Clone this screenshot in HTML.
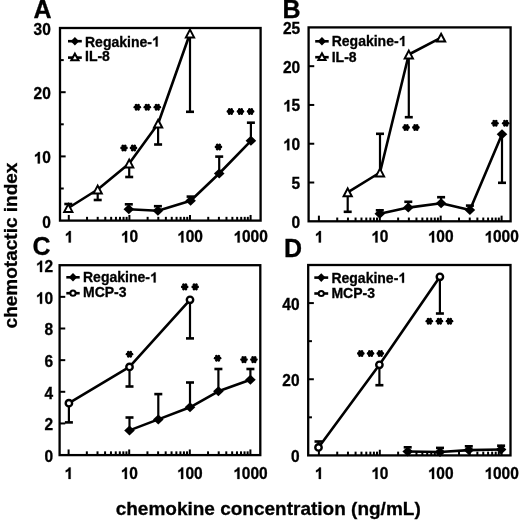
<!DOCTYPE html>
<html><head><meta charset="utf-8"><style>
html,body{margin:0;padding:0;background:#fff;width:520px;height:521px;overflow:hidden}
svg{display:block;filter:grayscale(1)}
</style></head><body>
<svg width="520" height="521" viewBox="0 0 520 521">
<style>text{stroke:#000;stroke-width:0.3px}.t{font:bold 15.5px "Liberation Sans",sans-serif}.l{font:bold 14.0px "Liberation Sans",sans-serif}.p{font:bold 25px "Liberation Sans",sans-serif}.a{font:bold 19px "Liberation Sans",sans-serif}</style>
<rect width="520" height="521" fill="#fff"/>
<g transform="matrix(1,0,0,1.03,0,-6.83)">
<text x="42.18" y="227.6" class="t">0</text>
</g>
<line x1="60" y1="156.4" x2="65.65" y2="156.4" stroke="#000" stroke-width="2.0"/>
<g transform="matrix(1,0,0,1.03,0,-4.9)">
<path d="M39.89 163.4L37.76 163.4L37.76 155.39Q36.59 156.47 35.01 157L35.01 155.07Q35.84 154.79 36.82 154.04Q37.8 153.27 38.16 152.3L39.89 152.3Z" fill="#000" stroke="#000" stroke-width="0.3"/>
<text x="42.18" y="163.4" class="t">0</text>
</g>
<line x1="60" y1="92.2" x2="65.65" y2="92.2" stroke="#000" stroke-width="2.0"/>
<g transform="matrix(1,0,0,1.03,0,-2.98)">
<text x="33.56" y="99.2" class="t">20</text>
</g>
<g transform="matrix(1,0,0,1.03,0,-1.05)">
<text x="33.56" y="35" class="t">30</text>
</g>
<line x1="60" y1="188.5" x2="63.75" y2="188.5" stroke="#000" stroke-width="2.0"/>
<line x1="60" y1="124.3" x2="63.75" y2="124.3" stroke="#000" stroke-width="2.0"/>
<line x1="60" y1="60.1" x2="63.75" y2="60.1" stroke="#000" stroke-width="2.0"/>
<line x1="68.8" y1="220.6" x2="68.8" y2="214.95" stroke="#000" stroke-width="2.0"/>
<g transform="matrix(1,0,0,1.03,0,-7.28)">
<path d="M70.82 242.5L68.69 242.5L68.69 234.49Q67.52 235.57 65.94 236.1L65.94 234.17Q66.78 233.89 67.75 233.14Q68.73 232.37 69.09 231.4L70.82 231.4Z" fill="#000" stroke="#000" stroke-width="0.3"/>
</g>
<line x1="87.04" y1="220.6" x2="87.04" y2="216.85" stroke="#000" stroke-width="2.0"/>
<line x1="97.71" y1="220.6" x2="97.71" y2="216.85" stroke="#000" stroke-width="2.0"/>
<line x1="105.28" y1="220.6" x2="105.28" y2="216.85" stroke="#000" stroke-width="2.0"/>
<line x1="111.16" y1="220.6" x2="111.16" y2="216.85" stroke="#000" stroke-width="2.0"/>
<line x1="115.96" y1="220.6" x2="115.96" y2="216.85" stroke="#000" stroke-width="2.0"/>
<line x1="120.01" y1="220.6" x2="120.01" y2="216.85" stroke="#000" stroke-width="2.0"/>
<line x1="123.53" y1="220.6" x2="123.53" y2="216.85" stroke="#000" stroke-width="2.0"/>
<line x1="126.63" y1="220.6" x2="126.63" y2="216.85" stroke="#000" stroke-width="2.0"/>
<line x1="129.4" y1="220.6" x2="129.4" y2="214.95" stroke="#000" stroke-width="2.0"/>
<g transform="matrix(1,0,0,1.03,0,-7.28)">
<path d="M127.11 242.5L124.98 242.5L124.98 234.49Q123.81 235.57 122.23 236.1L122.23 234.17Q123.07 233.89 124.04 233.14Q125.02 232.37 125.38 231.4L127.11 231.4Z" fill="#000" stroke="#000" stroke-width="0.3"/>
<text x="129.4" y="242.5" class="t">0</text>
</g>
<line x1="147.64" y1="220.6" x2="147.64" y2="216.85" stroke="#000" stroke-width="2.0"/>
<line x1="158.31" y1="220.6" x2="158.31" y2="216.85" stroke="#000" stroke-width="2.0"/>
<line x1="165.88" y1="220.6" x2="165.88" y2="216.85" stroke="#000" stroke-width="2.0"/>
<line x1="171.76" y1="220.6" x2="171.76" y2="216.85" stroke="#000" stroke-width="2.0"/>
<line x1="176.56" y1="220.6" x2="176.56" y2="216.85" stroke="#000" stroke-width="2.0"/>
<line x1="180.61" y1="220.6" x2="180.61" y2="216.85" stroke="#000" stroke-width="2.0"/>
<line x1="184.13" y1="220.6" x2="184.13" y2="216.85" stroke="#000" stroke-width="2.0"/>
<line x1="187.23" y1="220.6" x2="187.23" y2="216.85" stroke="#000" stroke-width="2.0"/>
<line x1="190" y1="220.6" x2="190" y2="214.95" stroke="#000" stroke-width="2.0"/>
<g transform="matrix(1,0,0,1.03,0,-7.28)">
<path d="M183.4 242.5L181.27 242.5L181.27 234.49Q180.1 235.57 178.52 236.1L178.52 234.17Q179.36 233.89 180.33 233.14Q181.31 232.37 181.67 231.4L183.4 231.4Z" fill="#000" stroke="#000" stroke-width="0.3"/>
<text x="185.69" y="242.5" class="t">00</text>
</g>
<line x1="208.24" y1="220.6" x2="208.24" y2="216.85" stroke="#000" stroke-width="2.0"/>
<line x1="218.91" y1="220.6" x2="218.91" y2="216.85" stroke="#000" stroke-width="2.0"/>
<line x1="226.48" y1="220.6" x2="226.48" y2="216.85" stroke="#000" stroke-width="2.0"/>
<line x1="232.36" y1="220.6" x2="232.36" y2="216.85" stroke="#000" stroke-width="2.0"/>
<line x1="237.16" y1="220.6" x2="237.16" y2="216.85" stroke="#000" stroke-width="2.0"/>
<line x1="241.21" y1="220.6" x2="241.21" y2="216.85" stroke="#000" stroke-width="2.0"/>
<line x1="244.73" y1="220.6" x2="244.73" y2="216.85" stroke="#000" stroke-width="2.0"/>
<line x1="247.83" y1="220.6" x2="247.83" y2="216.85" stroke="#000" stroke-width="2.0"/>
<line x1="250.6" y1="220.6" x2="250.6" y2="214.95" stroke="#000" stroke-width="2.0"/>
<g transform="matrix(1,0,0,1.03,0,-7.28)">
<path d="M239.69 242.5L237.56 242.5L237.56 234.49Q236.39 235.57 234.81 236.1L234.81 234.17Q235.64 233.89 236.62 233.14Q237.6 232.37 237.96 231.4L239.69 231.4Z" fill="#000" stroke="#000" stroke-width="0.3"/>
<text x="241.98" y="242.5" class="t">000</text>
</g>
<rect x="60" y="28" width="200.6" height="192.6" fill="none" stroke="#000" stroke-width="2.3"/>
<g transform="matrix(1,0,0,1.03,0,-6.83)">
<text x="291.58" y="227.8" class="t">0</text>
</g>
<line x1="308.6" y1="182.52" x2="314.25" y2="182.52" stroke="#000" stroke-width="2.0"/>
<g transform="matrix(1,0,0,1.03,0,-5.67)">
<text x="291.58" y="189.02" class="t">5</text>
</g>
<line x1="308.6" y1="143.74" x2="314.25" y2="143.74" stroke="#000" stroke-width="2.0"/>
<g transform="matrix(1,0,0,1.03,0,-4.51)">
<path d="M289.29 150.24L287.16 150.24L287.16 142.23Q285.99 143.31 284.41 143.84L284.41 141.91Q285.24 141.63 286.22 140.88Q287.2 140.11 287.56 139.14L289.29 139.14Z" fill="#000" stroke="#000" stroke-width="0.3"/>
<text x="291.58" y="150.24" class="t">0</text>
</g>
<line x1="308.6" y1="104.96" x2="314.25" y2="104.96" stroke="#000" stroke-width="2.0"/>
<g transform="matrix(1,0,0,1.03,0,-3.34)">
<path d="M289.29 111.46L287.16 111.46L287.16 103.45Q285.99 104.53 284.41 105.06L284.41 103.13Q285.24 102.85 286.22 102.1Q287.2 101.33 287.56 100.36L289.29 100.36Z" fill="#000" stroke="#000" stroke-width="0.3"/>
<text x="291.58" y="111.46" class="t">5</text>
</g>
<line x1="308.6" y1="66.18" x2="314.25" y2="66.18" stroke="#000" stroke-width="2.0"/>
<g transform="matrix(1,0,0,1.03,0,-2.18)">
<text x="282.96" y="72.68" class="t">20</text>
</g>
<g transform="matrix(1,0,0,1.03,0,-1.02)">
<text x="282.96" y="33.9" class="t">25</text>
</g>
<line x1="318.9" y1="221.3" x2="318.9" y2="215.65" stroke="#000" stroke-width="2.0"/>
<g transform="matrix(1,0,0,1.03,0,-7.28)">
<path d="M320.92 242.5L318.79 242.5L318.79 234.49Q317.62 235.57 316.04 236.1L316.04 234.17Q316.88 233.89 317.85 233.14Q318.83 232.37 319.19 231.4L320.92 231.4Z" fill="#000" stroke="#000" stroke-width="0.3"/>
</g>
<line x1="337.23" y1="221.3" x2="337.23" y2="217.55" stroke="#000" stroke-width="2.0"/>
<line x1="347.96" y1="221.3" x2="347.96" y2="217.55" stroke="#000" stroke-width="2.0"/>
<line x1="355.57" y1="221.3" x2="355.57" y2="217.55" stroke="#000" stroke-width="2.0"/>
<line x1="361.47" y1="221.3" x2="361.47" y2="217.55" stroke="#000" stroke-width="2.0"/>
<line x1="366.29" y1="221.3" x2="366.29" y2="217.55" stroke="#000" stroke-width="2.0"/>
<line x1="370.37" y1="221.3" x2="370.37" y2="217.55" stroke="#000" stroke-width="2.0"/>
<line x1="373.9" y1="221.3" x2="373.9" y2="217.55" stroke="#000" stroke-width="2.0"/>
<line x1="377.01" y1="221.3" x2="377.01" y2="217.55" stroke="#000" stroke-width="2.0"/>
<line x1="379.8" y1="221.3" x2="379.8" y2="215.65" stroke="#000" stroke-width="2.0"/>
<g transform="matrix(1,0,0,1.03,0,-7.28)">
<path d="M377.51 242.5L375.38 242.5L375.38 234.49Q374.21 235.57 372.63 236.1L372.63 234.17Q373.47 233.89 374.44 233.14Q375.42 232.37 375.78 231.4L377.51 231.4Z" fill="#000" stroke="#000" stroke-width="0.3"/>
<text x="379.8" y="242.5" class="t">0</text>
</g>
<line x1="398.13" y1="221.3" x2="398.13" y2="217.55" stroke="#000" stroke-width="2.0"/>
<line x1="408.86" y1="221.3" x2="408.86" y2="217.55" stroke="#000" stroke-width="2.0"/>
<line x1="416.47" y1="221.3" x2="416.47" y2="217.55" stroke="#000" stroke-width="2.0"/>
<line x1="422.37" y1="221.3" x2="422.37" y2="217.55" stroke="#000" stroke-width="2.0"/>
<line x1="427.19" y1="221.3" x2="427.19" y2="217.55" stroke="#000" stroke-width="2.0"/>
<line x1="431.27" y1="221.3" x2="431.27" y2="217.55" stroke="#000" stroke-width="2.0"/>
<line x1="434.8" y1="221.3" x2="434.8" y2="217.55" stroke="#000" stroke-width="2.0"/>
<line x1="437.91" y1="221.3" x2="437.91" y2="217.55" stroke="#000" stroke-width="2.0"/>
<line x1="440.7" y1="221.3" x2="440.7" y2="215.65" stroke="#000" stroke-width="2.0"/>
<g transform="matrix(1,0,0,1.03,0,-7.28)">
<path d="M434.1 242.5L431.97 242.5L431.97 234.49Q430.8 235.57 429.22 236.1L429.22 234.17Q430.06 233.89 431.03 233.14Q432.01 232.37 432.37 231.4L434.1 231.4Z" fill="#000" stroke="#000" stroke-width="0.3"/>
<text x="436.39" y="242.5" class="t">00</text>
</g>
<line x1="459.03" y1="221.3" x2="459.03" y2="217.55" stroke="#000" stroke-width="2.0"/>
<line x1="469.76" y1="221.3" x2="469.76" y2="217.55" stroke="#000" stroke-width="2.0"/>
<line x1="477.37" y1="221.3" x2="477.37" y2="217.55" stroke="#000" stroke-width="2.0"/>
<line x1="483.27" y1="221.3" x2="483.27" y2="217.55" stroke="#000" stroke-width="2.0"/>
<line x1="488.09" y1="221.3" x2="488.09" y2="217.55" stroke="#000" stroke-width="2.0"/>
<line x1="492.17" y1="221.3" x2="492.17" y2="217.55" stroke="#000" stroke-width="2.0"/>
<line x1="495.7" y1="221.3" x2="495.7" y2="217.55" stroke="#000" stroke-width="2.0"/>
<line x1="498.81" y1="221.3" x2="498.81" y2="217.55" stroke="#000" stroke-width="2.0"/>
<line x1="501.6" y1="221.3" x2="501.6" y2="215.65" stroke="#000" stroke-width="2.0"/>
<g transform="matrix(1,0,0,1.03,0,-7.28)">
<path d="M490.69 242.5L488.56 242.5L488.56 234.49Q487.39 235.57 485.81 236.1L485.81 234.17Q486.64 233.89 487.62 233.14Q488.6 232.37 488.96 231.4L490.69 231.4Z" fill="#000" stroke="#000" stroke-width="0.3"/>
<text x="492.98" y="242.5" class="t">000</text>
</g>
<rect x="308.6" y="27.4" width="202" height="193.9" fill="none" stroke="#000" stroke-width="2.3"/>
<g transform="matrix(1,0,0,1.03,0,-13.86)">
<text x="44.38" y="462" class="t">0</text>
</g>
<line x1="59.6" y1="423.45" x2="65.25" y2="423.45" stroke="#000" stroke-width="2.0"/>
<g transform="matrix(1,0,0,1.03,0,-12.91)">
<text x="44.38" y="430.35" class="t">2</text>
</g>
<line x1="59.6" y1="391.8" x2="65.25" y2="391.8" stroke="#000" stroke-width="2.0"/>
<g transform="matrix(1,0,0,1.03,0,-11.96)">
<text x="44.38" y="398.7" class="t">4</text>
</g>
<line x1="59.6" y1="360.15" x2="65.25" y2="360.15" stroke="#000" stroke-width="2.0"/>
<g transform="matrix(1,0,0,1.03,0,-11.01)">
<text x="44.38" y="367.05" class="t">6</text>
</g>
<line x1="59.6" y1="328.5" x2="65.25" y2="328.5" stroke="#000" stroke-width="2.0"/>
<g transform="matrix(1,0,0,1.03,0,-10.06)">
<text x="44.38" y="335.4" class="t">8</text>
</g>
<line x1="59.6" y1="296.85" x2="65.25" y2="296.85" stroke="#000" stroke-width="2.0"/>
<g transform="matrix(1,0,0,1.03,0,-9.11)">
<path d="M42.09 303.75L39.96 303.75L39.96 295.74Q38.79 296.82 37.21 297.35L37.21 295.42Q38.04 295.14 39.02 294.39Q40 293.62 40.36 292.65L42.09 292.65Z" fill="#000" stroke="#000" stroke-width="0.3"/>
<text x="44.38" y="303.75" class="t">0</text>
</g>
<g transform="matrix(1,0,0,1.03,0,-8.16)">
<path d="M42.09 272.1L39.96 272.1L39.96 264.09Q38.79 265.17 37.21 265.7L37.21 263.77Q38.04 263.49 39.02 262.74Q40 261.97 40.36 261L42.09 261Z" fill="#000" stroke="#000" stroke-width="0.3"/>
<text x="44.38" y="272.1" class="t">2</text>
</g>
<line x1="68.6" y1="455.1" x2="68.6" y2="449.45" stroke="#000" stroke-width="2.0"/>
<g transform="matrix(1,0,0,1.03,0,-14.37)">
<path d="M70.62 478.9L68.49 478.9L68.49 470.89Q67.32 471.97 65.74 472.5L65.74 470.57Q66.58 470.29 67.55 469.54Q68.53 468.77 68.89 467.8L70.62 467.8Z" fill="#000" stroke="#000" stroke-width="0.3"/>
</g>
<line x1="86.84" y1="455.1" x2="86.84" y2="451.35" stroke="#000" stroke-width="2.0"/>
<line x1="97.51" y1="455.1" x2="97.51" y2="451.35" stroke="#000" stroke-width="2.0"/>
<line x1="105.08" y1="455.1" x2="105.08" y2="451.35" stroke="#000" stroke-width="2.0"/>
<line x1="110.96" y1="455.1" x2="110.96" y2="451.35" stroke="#000" stroke-width="2.0"/>
<line x1="115.76" y1="455.1" x2="115.76" y2="451.35" stroke="#000" stroke-width="2.0"/>
<line x1="119.81" y1="455.1" x2="119.81" y2="451.35" stroke="#000" stroke-width="2.0"/>
<line x1="123.33" y1="455.1" x2="123.33" y2="451.35" stroke="#000" stroke-width="2.0"/>
<line x1="126.43" y1="455.1" x2="126.43" y2="451.35" stroke="#000" stroke-width="2.0"/>
<line x1="129.2" y1="455.1" x2="129.2" y2="449.45" stroke="#000" stroke-width="2.0"/>
<g transform="matrix(1,0,0,1.03,0,-14.37)">
<path d="M126.91 478.9L124.78 478.9L124.78 470.89Q123.61 471.97 122.03 472.5L122.03 470.57Q122.87 470.29 123.84 469.54Q124.82 468.77 125.18 467.8L126.91 467.8Z" fill="#000" stroke="#000" stroke-width="0.3"/>
<text x="129.2" y="478.9" class="t">0</text>
</g>
<line x1="147.44" y1="455.1" x2="147.44" y2="451.35" stroke="#000" stroke-width="2.0"/>
<line x1="158.11" y1="455.1" x2="158.11" y2="451.35" stroke="#000" stroke-width="2.0"/>
<line x1="165.68" y1="455.1" x2="165.68" y2="451.35" stroke="#000" stroke-width="2.0"/>
<line x1="171.56" y1="455.1" x2="171.56" y2="451.35" stroke="#000" stroke-width="2.0"/>
<line x1="176.36" y1="455.1" x2="176.36" y2="451.35" stroke="#000" stroke-width="2.0"/>
<line x1="180.41" y1="455.1" x2="180.41" y2="451.35" stroke="#000" stroke-width="2.0"/>
<line x1="183.93" y1="455.1" x2="183.93" y2="451.35" stroke="#000" stroke-width="2.0"/>
<line x1="187.03" y1="455.1" x2="187.03" y2="451.35" stroke="#000" stroke-width="2.0"/>
<line x1="189.8" y1="455.1" x2="189.8" y2="449.45" stroke="#000" stroke-width="2.0"/>
<g transform="matrix(1,0,0,1.03,0,-14.37)">
<path d="M183.2 478.9L181.07 478.9L181.07 470.89Q179.9 471.97 178.32 472.5L178.32 470.57Q179.16 470.29 180.13 469.54Q181.11 468.77 181.47 467.8L183.2 467.8Z" fill="#000" stroke="#000" stroke-width="0.3"/>
<text x="185.49" y="478.9" class="t">00</text>
</g>
<line x1="208.04" y1="455.1" x2="208.04" y2="451.35" stroke="#000" stroke-width="2.0"/>
<line x1="218.71" y1="455.1" x2="218.71" y2="451.35" stroke="#000" stroke-width="2.0"/>
<line x1="226.28" y1="455.1" x2="226.28" y2="451.35" stroke="#000" stroke-width="2.0"/>
<line x1="232.16" y1="455.1" x2="232.16" y2="451.35" stroke="#000" stroke-width="2.0"/>
<line x1="236.96" y1="455.1" x2="236.96" y2="451.35" stroke="#000" stroke-width="2.0"/>
<line x1="241.01" y1="455.1" x2="241.01" y2="451.35" stroke="#000" stroke-width="2.0"/>
<line x1="244.53" y1="455.1" x2="244.53" y2="451.35" stroke="#000" stroke-width="2.0"/>
<line x1="247.63" y1="455.1" x2="247.63" y2="451.35" stroke="#000" stroke-width="2.0"/>
<line x1="250.4" y1="455.1" x2="250.4" y2="449.45" stroke="#000" stroke-width="2.0"/>
<g transform="matrix(1,0,0,1.03,0,-14.37)">
<path d="M239.49 478.9L237.36 478.9L237.36 470.89Q236.19 471.97 234.61 472.5L234.61 470.57Q235.44 470.29 236.42 469.54Q237.4 468.77 237.76 467.8L239.49 467.8Z" fill="#000" stroke="#000" stroke-width="0.3"/>
<text x="241.78" y="478.9" class="t">000</text>
</g>
<rect x="59.6" y="265.2" width="200.7" height="189.9" fill="none" stroke="#000" stroke-width="2.3"/>
<g transform="matrix(1,0,0,1.03,0,-13.87)">
<text x="290.98" y="462.3" class="t">0</text>
</g>
<line x1="308.2" y1="379.24" x2="313.85" y2="379.24" stroke="#000" stroke-width="2.0"/>
<g transform="matrix(1,0,0,1.03,0,-11.58)">
<text x="282.36" y="386.14" class="t">20</text>
</g>
<line x1="308.2" y1="303.08" x2="313.85" y2="303.08" stroke="#000" stroke-width="2.0"/>
<g transform="matrix(1,0,0,1.03,0,-9.3)">
<text x="282.36" y="309.98" class="t">40</text>
</g>
<line x1="308.2" y1="417.32" x2="311.95" y2="417.32" stroke="#000" stroke-width="2.0"/>
<line x1="308.2" y1="341.16" x2="311.95" y2="341.16" stroke="#000" stroke-width="2.0"/>
<line x1="318.9" y1="455.4" x2="318.9" y2="449.75" stroke="#000" stroke-width="2.0"/>
<g transform="matrix(1,0,0,1.03,0,-14.37)">
<path d="M320.92 478.9L318.79 478.9L318.79 470.89Q317.62 471.97 316.04 472.5L316.04 470.57Q316.88 470.29 317.85 469.54Q318.83 468.77 319.19 467.8L320.92 467.8Z" fill="#000" stroke="#000" stroke-width="0.3"/>
</g>
<line x1="337.23" y1="455.4" x2="337.23" y2="451.65" stroke="#000" stroke-width="2.0"/>
<line x1="347.96" y1="455.4" x2="347.96" y2="451.65" stroke="#000" stroke-width="2.0"/>
<line x1="355.57" y1="455.4" x2="355.57" y2="451.65" stroke="#000" stroke-width="2.0"/>
<line x1="361.47" y1="455.4" x2="361.47" y2="451.65" stroke="#000" stroke-width="2.0"/>
<line x1="366.29" y1="455.4" x2="366.29" y2="451.65" stroke="#000" stroke-width="2.0"/>
<line x1="370.37" y1="455.4" x2="370.37" y2="451.65" stroke="#000" stroke-width="2.0"/>
<line x1="373.9" y1="455.4" x2="373.9" y2="451.65" stroke="#000" stroke-width="2.0"/>
<line x1="377.01" y1="455.4" x2="377.01" y2="451.65" stroke="#000" stroke-width="2.0"/>
<line x1="379.8" y1="455.4" x2="379.8" y2="449.75" stroke="#000" stroke-width="2.0"/>
<g transform="matrix(1,0,0,1.03,0,-14.37)">
<path d="M377.51 478.9L375.38 478.9L375.38 470.89Q374.21 471.97 372.63 472.5L372.63 470.57Q373.47 470.29 374.44 469.54Q375.42 468.77 375.78 467.8L377.51 467.8Z" fill="#000" stroke="#000" stroke-width="0.3"/>
<text x="379.8" y="478.9" class="t">0</text>
</g>
<line x1="398.13" y1="455.4" x2="398.13" y2="451.65" stroke="#000" stroke-width="2.0"/>
<line x1="408.86" y1="455.4" x2="408.86" y2="451.65" stroke="#000" stroke-width="2.0"/>
<line x1="416.47" y1="455.4" x2="416.47" y2="451.65" stroke="#000" stroke-width="2.0"/>
<line x1="422.37" y1="455.4" x2="422.37" y2="451.65" stroke="#000" stroke-width="2.0"/>
<line x1="427.19" y1="455.4" x2="427.19" y2="451.65" stroke="#000" stroke-width="2.0"/>
<line x1="431.27" y1="455.4" x2="431.27" y2="451.65" stroke="#000" stroke-width="2.0"/>
<line x1="434.8" y1="455.4" x2="434.8" y2="451.65" stroke="#000" stroke-width="2.0"/>
<line x1="437.91" y1="455.4" x2="437.91" y2="451.65" stroke="#000" stroke-width="2.0"/>
<line x1="440.7" y1="455.4" x2="440.7" y2="449.75" stroke="#000" stroke-width="2.0"/>
<g transform="matrix(1,0,0,1.03,0,-14.37)">
<path d="M434.1 478.9L431.97 478.9L431.97 470.89Q430.8 471.97 429.22 472.5L429.22 470.57Q430.06 470.29 431.03 469.54Q432.01 468.77 432.37 467.8L434.1 467.8Z" fill="#000" stroke="#000" stroke-width="0.3"/>
<text x="436.39" y="478.9" class="t">00</text>
</g>
<line x1="459.03" y1="455.4" x2="459.03" y2="451.65" stroke="#000" stroke-width="2.0"/>
<line x1="469.76" y1="455.4" x2="469.76" y2="451.65" stroke="#000" stroke-width="2.0"/>
<line x1="477.37" y1="455.4" x2="477.37" y2="451.65" stroke="#000" stroke-width="2.0"/>
<line x1="483.27" y1="455.4" x2="483.27" y2="451.65" stroke="#000" stroke-width="2.0"/>
<line x1="488.09" y1="455.4" x2="488.09" y2="451.65" stroke="#000" stroke-width="2.0"/>
<line x1="492.17" y1="455.4" x2="492.17" y2="451.65" stroke="#000" stroke-width="2.0"/>
<line x1="495.7" y1="455.4" x2="495.7" y2="451.65" stroke="#000" stroke-width="2.0"/>
<line x1="498.81" y1="455.4" x2="498.81" y2="451.65" stroke="#000" stroke-width="2.0"/>
<line x1="501.6" y1="455.4" x2="501.6" y2="449.75" stroke="#000" stroke-width="2.0"/>
<g transform="matrix(1,0,0,1.03,0,-14.37)">
<path d="M490.69 478.9L488.56 478.9L488.56 470.89Q487.39 471.97 485.81 472.5L485.81 470.57Q486.64 470.29 487.62 469.54Q488.6 468.77 488.96 467.8L490.69 467.8Z" fill="#000" stroke="#000" stroke-width="0.3"/>
<text x="492.98" y="478.9" class="t">000</text>
</g>
<rect x="308.2" y="265" width="202.3" height="190.4" fill="none" stroke="#000" stroke-width="2.3"/>
<line x1="68.3" y1="208" x2="68.3" y2="204" stroke="#000" stroke-width="2.2"/>
<line x1="64.3" y1="204" x2="72.3" y2="204" stroke="#000" stroke-width="2.6"/>
<line x1="97.7" y1="189.5" x2="97.7" y2="200" stroke="#000" stroke-width="2.2"/>
<line x1="93.7" y1="200" x2="101.7" y2="200" stroke="#000" stroke-width="2.6"/>
<line x1="129.2" y1="163.5" x2="129.2" y2="177" stroke="#000" stroke-width="2.2"/>
<line x1="125.2" y1="177" x2="133.2" y2="177" stroke="#000" stroke-width="2.6"/>
<line x1="158.1" y1="123.7" x2="158.1" y2="144.5" stroke="#000" stroke-width="2.2"/>
<line x1="154.1" y1="144.5" x2="162.1" y2="144.5" stroke="#000" stroke-width="2.6"/>
<line x1="190" y1="33.5" x2="190" y2="111.8" stroke="#000" stroke-width="2.2"/>
<line x1="186" y1="111.8" x2="194" y2="111.8" stroke="#000" stroke-width="2.6"/>
<line x1="128.8" y1="209.3" x2="128.8" y2="204.3" stroke="#000" stroke-width="2.2"/>
<line x1="124.8" y1="204.3" x2="132.8" y2="204.3" stroke="#000" stroke-width="2.6"/>
<line x1="157.9" y1="210.8" x2="157.9" y2="206.2" stroke="#000" stroke-width="2.2"/>
<line x1="153.9" y1="206.2" x2="161.9" y2="206.2" stroke="#000" stroke-width="2.6"/>
<line x1="190.6" y1="200.8" x2="190.6" y2="196.6" stroke="#000" stroke-width="2.2"/>
<line x1="186.6" y1="196.6" x2="194.6" y2="196.6" stroke="#000" stroke-width="2.6"/>
<line x1="219.2" y1="173.5" x2="219.2" y2="156.6" stroke="#000" stroke-width="2.2"/>
<line x1="215.2" y1="156.6" x2="223.2" y2="156.6" stroke="#000" stroke-width="2.6"/>
<line x1="250.9" y1="140.8" x2="250.9" y2="122.7" stroke="#000" stroke-width="2.2"/>
<line x1="246.9" y1="122.7" x2="254.9" y2="122.7" stroke="#000" stroke-width="2.6"/>
<polyline points="68.3,208 97.7,189.5 129.2,163.5 158.1,123.7 190,33.5" fill="none" stroke="#000" stroke-width="2.6" stroke-linejoin="round"/>
<polyline points="128.8,209.3 157.9,210.8 190.6,200.8 219.2,173.5 250.9,140.8" fill="none" stroke="#000" stroke-width="2.6" stroke-linejoin="round"/>
<path d="M128.8 204.3L134.1 209.3L128.8 214.3L123.5 209.3Z" fill="#000"/>
<path d="M157.9 205.8L163.2 210.8L157.9 215.8L152.6 210.8Z" fill="#000"/>
<path d="M190.6 195.8L195.9 200.8L190.6 205.8L185.3 200.8Z" fill="#000"/>
<path d="M219.2 168.5L224.5 173.5L219.2 178.5L213.9 173.5Z" fill="#000"/>
<path d="M250.9 135.8L256.2 140.8L250.9 145.8L245.6 140.8Z" fill="#000"/>
<path d="M68.3 204.1L72.4 211.9L64.2 211.9Z" fill="#fff" stroke="#000" stroke-width="2.0" stroke-linejoin="miter"/>
<path d="M97.7 185.6L101.8 193.4L93.6 193.4Z" fill="#fff" stroke="#000" stroke-width="2.0" stroke-linejoin="miter"/>
<path d="M129.2 159.6L133.3 167.4L125.1 167.4Z" fill="#fff" stroke="#000" stroke-width="2.0" stroke-linejoin="miter"/>
<path d="M158.1 119.8L162.2 127.6L154 127.6Z" fill="#fff" stroke="#000" stroke-width="2.0" stroke-linejoin="miter"/>
<path d="M190 29.6L194.1 37.4L185.9 37.4Z" fill="#fff" stroke="#000" stroke-width="2.0" stroke-linejoin="miter"/>
<line x1="121.6" y1="148" x2="126.4" y2="148" stroke="#000" stroke-width="2.8" stroke-linecap="round"/>
<line x1="122.8" y1="145.92" x2="125.2" y2="150.08" stroke="#000" stroke-width="2.8" stroke-linecap="round"/>
<line x1="125.2" y1="145.92" x2="122.8" y2="150.08" stroke="#000" stroke-width="2.8" stroke-linecap="round"/>
<line x1="131.1" y1="148" x2="135.9" y2="148" stroke="#000" stroke-width="2.8" stroke-linecap="round"/>
<line x1="132.3" y1="145.92" x2="134.7" y2="150.08" stroke="#000" stroke-width="2.8" stroke-linecap="round"/>
<line x1="134.7" y1="145.92" x2="132.3" y2="150.08" stroke="#000" stroke-width="2.8" stroke-linecap="round"/>
<line x1="134.9" y1="107.2" x2="139.7" y2="107.2" stroke="#000" stroke-width="2.8" stroke-linecap="round"/>
<line x1="136.1" y1="105.12" x2="138.5" y2="109.28" stroke="#000" stroke-width="2.8" stroke-linecap="round"/>
<line x1="138.5" y1="105.12" x2="136.1" y2="109.28" stroke="#000" stroke-width="2.8" stroke-linecap="round"/>
<line x1="144.9" y1="107.2" x2="149.7" y2="107.2" stroke="#000" stroke-width="2.8" stroke-linecap="round"/>
<line x1="146.1" y1="105.12" x2="148.5" y2="109.28" stroke="#000" stroke-width="2.8" stroke-linecap="round"/>
<line x1="148.5" y1="105.12" x2="146.1" y2="109.28" stroke="#000" stroke-width="2.8" stroke-linecap="round"/>
<line x1="154.9" y1="107.2" x2="159.7" y2="107.2" stroke="#000" stroke-width="2.8" stroke-linecap="round"/>
<line x1="156.1" y1="105.12" x2="158.5" y2="109.28" stroke="#000" stroke-width="2.8" stroke-linecap="round"/>
<line x1="158.5" y1="105.12" x2="156.1" y2="109.28" stroke="#000" stroke-width="2.8" stroke-linecap="round"/>
<line x1="216.05" y1="147" x2="220.85" y2="147" stroke="#000" stroke-width="2.8" stroke-linecap="round"/>
<line x1="217.25" y1="144.92" x2="219.65" y2="149.08" stroke="#000" stroke-width="2.8" stroke-linecap="round"/>
<line x1="219.65" y1="144.92" x2="217.25" y2="149.08" stroke="#000" stroke-width="2.8" stroke-linecap="round"/>
<line x1="228" y1="111.5" x2="232.8" y2="111.5" stroke="#000" stroke-width="2.8" stroke-linecap="round"/>
<line x1="229.2" y1="109.42" x2="231.6" y2="113.58" stroke="#000" stroke-width="2.8" stroke-linecap="round"/>
<line x1="231.6" y1="109.42" x2="229.2" y2="113.58" stroke="#000" stroke-width="2.8" stroke-linecap="round"/>
<line x1="238.1" y1="111.5" x2="242.9" y2="111.5" stroke="#000" stroke-width="2.8" stroke-linecap="round"/>
<line x1="239.3" y1="109.42" x2="241.7" y2="113.58" stroke="#000" stroke-width="2.8" stroke-linecap="round"/>
<line x1="241.7" y1="109.42" x2="239.3" y2="113.58" stroke="#000" stroke-width="2.8" stroke-linecap="round"/>
<line x1="248.2" y1="111.5" x2="253" y2="111.5" stroke="#000" stroke-width="2.8" stroke-linecap="round"/>
<line x1="249.4" y1="109.42" x2="251.8" y2="113.58" stroke="#000" stroke-width="2.8" stroke-linecap="round"/>
<line x1="251.8" y1="109.42" x2="249.4" y2="113.58" stroke="#000" stroke-width="2.8" stroke-linecap="round"/>
<line x1="68" y1="41.2" x2="81.8" y2="41.2" stroke="#000" stroke-width="2.6"/>
<path d="M74.9 36.9L79.1 41.2L74.9 45.5L70.7 41.2Z" fill="#000"/>
<text x="85" y="46.5" class="l">Regakine-</text>
<path d="M157.62 46.5L155.7 46.5L155.7 39.26Q154.65 40.25 153.22 40.72L153.22 38.97Q153.97 38.73 154.86 38.04Q155.74 37.35 156.07 36.48L157.62 36.48Z" fill="#000" stroke="#000" stroke-width="0.3"/>
<line x1="68" y1="57.6" x2="81.8" y2="57.6" stroke="#000" stroke-width="2.6"/>
<path d="M74.9 53.7L78.5 60.3L71.3 60.3Z" fill="#fff" stroke="#000" stroke-width="2.0" stroke-linejoin="miter"/>
<text x="85" y="61.4" class="l">IL-8</text>
<line x1="347.7" y1="192.3" x2="347.7" y2="211.8" stroke="#000" stroke-width="2.2"/>
<line x1="343.7" y1="211.8" x2="351.7" y2="211.8" stroke="#000" stroke-width="2.6"/>
<line x1="380" y1="172.5" x2="380" y2="133.8" stroke="#000" stroke-width="2.2"/>
<line x1="376" y1="133.8" x2="384" y2="133.8" stroke="#000" stroke-width="2.6"/>
<line x1="408.8" y1="54.5" x2="408.8" y2="117.2" stroke="#000" stroke-width="2.2"/>
<line x1="404.8" y1="117.2" x2="412.8" y2="117.2" stroke="#000" stroke-width="2.6"/>
<line x1="379.8" y1="213.8" x2="379.8" y2="210.3" stroke="#000" stroke-width="2.2"/>
<line x1="375.8" y1="210.3" x2="383.8" y2="210.3" stroke="#000" stroke-width="2.6"/>
<line x1="408.3" y1="207.6" x2="408.3" y2="201.8" stroke="#000" stroke-width="2.2"/>
<line x1="404.3" y1="201.8" x2="412.3" y2="201.8" stroke="#000" stroke-width="2.6"/>
<line x1="441.1" y1="203.2" x2="441.1" y2="197.2" stroke="#000" stroke-width="2.2"/>
<line x1="437.1" y1="197.2" x2="445.1" y2="197.2" stroke="#000" stroke-width="2.6"/>
<line x1="469.9" y1="209.9" x2="469.9" y2="205.6" stroke="#000" stroke-width="2.2"/>
<line x1="465.9" y1="205.6" x2="473.9" y2="205.6" stroke="#000" stroke-width="2.6"/>
<line x1="502" y1="134.3" x2="502" y2="182.8" stroke="#000" stroke-width="2.2"/>
<line x1="498" y1="182.8" x2="506" y2="182.8" stroke="#000" stroke-width="2.6"/>
<polyline points="347.7,192.3 380,172.5 408.8,54.5 441.1,37.7" fill="none" stroke="#000" stroke-width="2.6" stroke-linejoin="round"/>
<polyline points="379.8,213.8 408.3,207.6 441.1,203.2 469.9,209.9 502,134.3" fill="none" stroke="#000" stroke-width="2.6" stroke-linejoin="round"/>
<path d="M379.8 208.8L385.1 213.8L379.8 218.8L374.5 213.8Z" fill="#000"/>
<path d="M408.3 202.6L413.6 207.6L408.3 212.6L403 207.6Z" fill="#000"/>
<path d="M441.1 198.2L446.4 203.2L441.1 208.2L435.8 203.2Z" fill="#000"/>
<path d="M469.9 204.9L475.2 209.9L469.9 214.9L464.6 209.9Z" fill="#000"/>
<path d="M502 129.3L507.3 134.3L502 139.3L496.7 134.3Z" fill="#000"/>
<path d="M347.7 188.4L351.8 196.2L343.6 196.2Z" fill="#fff" stroke="#000" stroke-width="2.0" stroke-linejoin="miter"/>
<path d="M380 168.6L384.1 176.4L375.9 176.4Z" fill="#fff" stroke="#000" stroke-width="2.0" stroke-linejoin="miter"/>
<path d="M408.8 50.6L412.9 58.4L404.7 58.4Z" fill="#fff" stroke="#000" stroke-width="2.0" stroke-linejoin="miter"/>
<path d="M441.1 33.8L445.2 41.6L437 41.6Z" fill="#fff" stroke="#000" stroke-width="2.0" stroke-linejoin="miter"/>
<line x1="403.7" y1="127.5" x2="408.5" y2="127.5" stroke="#000" stroke-width="2.8" stroke-linecap="round"/>
<line x1="404.9" y1="125.42" x2="407.3" y2="129.58" stroke="#000" stroke-width="2.8" stroke-linecap="round"/>
<line x1="407.3" y1="125.42" x2="404.9" y2="129.58" stroke="#000" stroke-width="2.8" stroke-linecap="round"/>
<line x1="413.5" y1="127.5" x2="418.3" y2="127.5" stroke="#000" stroke-width="2.8" stroke-linecap="round"/>
<line x1="414.7" y1="125.42" x2="417.1" y2="129.58" stroke="#000" stroke-width="2.8" stroke-linecap="round"/>
<line x1="417.1" y1="125.42" x2="414.7" y2="129.58" stroke="#000" stroke-width="2.8" stroke-linecap="round"/>
<line x1="492.6" y1="123.3" x2="497.4" y2="123.3" stroke="#000" stroke-width="2.8" stroke-linecap="round"/>
<line x1="493.8" y1="121.22" x2="496.2" y2="125.38" stroke="#000" stroke-width="2.8" stroke-linecap="round"/>
<line x1="496.2" y1="121.22" x2="493.8" y2="125.38" stroke="#000" stroke-width="2.8" stroke-linecap="round"/>
<line x1="503.3" y1="123.3" x2="508.1" y2="123.3" stroke="#000" stroke-width="2.8" stroke-linecap="round"/>
<line x1="504.5" y1="121.22" x2="506.9" y2="125.38" stroke="#000" stroke-width="2.8" stroke-linecap="round"/>
<line x1="506.9" y1="121.22" x2="504.5" y2="125.38" stroke="#000" stroke-width="2.8" stroke-linecap="round"/>
<line x1="315.2" y1="41.3" x2="328.7" y2="41.3" stroke="#000" stroke-width="2.6"/>
<path d="M321.95 37L326.15 41.3L321.95 45.6L317.75 41.3Z" fill="#000"/>
<text x="331.7" y="46.1" class="l">Regakine-</text>
<path d="M404.32 46.1L402.4 46.1L402.4 38.86Q401.35 39.85 399.92 40.32L399.92 38.57Q400.67 38.33 401.56 37.64Q402.44 36.95 402.77 36.08L404.32 36.08Z" fill="#000" stroke="#000" stroke-width="0.3"/>
<line x1="315.2" y1="57.2" x2="328.7" y2="57.2" stroke="#000" stroke-width="2.6"/>
<path d="M321.95 53.3L325.55 59.9L318.35 59.9Z" fill="#fff" stroke="#000" stroke-width="2.0" stroke-linejoin="miter"/>
<text x="331.7" y="61.8" class="l">IL-8</text>
<line x1="68.9" y1="403.2" x2="68.9" y2="422.4" stroke="#000" stroke-width="2.2"/>
<line x1="64.9" y1="422.4" x2="72.9" y2="422.4" stroke="#000" stroke-width="2.6"/>
<line x1="129.5" y1="366.9" x2="129.5" y2="386.5" stroke="#000" stroke-width="2.2"/>
<line x1="125.5" y1="386.5" x2="133.5" y2="386.5" stroke="#000" stroke-width="2.6"/>
<line x1="190" y1="299.8" x2="190" y2="338.4" stroke="#000" stroke-width="2.2"/>
<line x1="186" y1="338.4" x2="194" y2="338.4" stroke="#000" stroke-width="2.6"/>
<line x1="129.5" y1="430.4" x2="129.5" y2="417.5" stroke="#000" stroke-width="2.2"/>
<line x1="125.5" y1="417.5" x2="133.5" y2="417.5" stroke="#000" stroke-width="2.6"/>
<line x1="158.3" y1="419.4" x2="158.3" y2="394.1" stroke="#000" stroke-width="2.2"/>
<line x1="154.3" y1="394.1" x2="162.3" y2="394.1" stroke="#000" stroke-width="2.6"/>
<line x1="190" y1="407.3" x2="190" y2="382.5" stroke="#000" stroke-width="2.2"/>
<line x1="186" y1="382.5" x2="194" y2="382.5" stroke="#000" stroke-width="2.6"/>
<line x1="218.4" y1="391.3" x2="218.4" y2="369" stroke="#000" stroke-width="2.2"/>
<line x1="214.4" y1="369" x2="222.4" y2="369" stroke="#000" stroke-width="2.6"/>
<line x1="250.4" y1="379.7" x2="250.4" y2="369" stroke="#000" stroke-width="2.2"/>
<line x1="246.4" y1="369" x2="254.4" y2="369" stroke="#000" stroke-width="2.6"/>
<polyline points="68.9,403.2 129.5,366.9 190,299.8" fill="none" stroke="#000" stroke-width="2.6" stroke-linejoin="round"/>
<polyline points="129.5,430.4 158.3,419.4 190,407.3 218.4,391.3 250.4,379.7" fill="none" stroke="#000" stroke-width="2.6" stroke-linejoin="round"/>
<path d="M129.5 425.4L134.8 430.4L129.5 435.4L124.2 430.4Z" fill="#000"/>
<path d="M158.3 414.4L163.6 419.4L158.3 424.4L153 419.4Z" fill="#000"/>
<path d="M190 402.3L195.3 407.3L190 412.3L184.7 407.3Z" fill="#000"/>
<path d="M218.4 386.3L223.7 391.3L218.4 396.3L213.1 391.3Z" fill="#000"/>
<path d="M250.4 374.7L255.7 379.7L250.4 384.7L245.1 379.7Z" fill="#000"/>
<circle cx="68.9" cy="403.2" r="3.2" fill="#fff" stroke="#000" stroke-width="2.4"/>
<circle cx="129.5" cy="366.9" r="3.2" fill="#fff" stroke="#000" stroke-width="2.4"/>
<circle cx="190" cy="299.8" r="3.2" fill="#fff" stroke="#000" stroke-width="2.4"/>
<line x1="127.1" y1="354.2" x2="131.9" y2="354.2" stroke="#000" stroke-width="2.8" stroke-linecap="round"/>
<line x1="128.3" y1="352.12" x2="130.7" y2="356.28" stroke="#000" stroke-width="2.8" stroke-linecap="round"/>
<line x1="130.7" y1="352.12" x2="128.3" y2="356.28" stroke="#000" stroke-width="2.8" stroke-linecap="round"/>
<line x1="182.3" y1="286.9" x2="187.1" y2="286.9" stroke="#000" stroke-width="2.8" stroke-linecap="round"/>
<line x1="183.5" y1="284.82" x2="185.9" y2="288.98" stroke="#000" stroke-width="2.8" stroke-linecap="round"/>
<line x1="185.9" y1="284.82" x2="183.5" y2="288.98" stroke="#000" stroke-width="2.8" stroke-linecap="round"/>
<line x1="192.8" y1="286.9" x2="197.6" y2="286.9" stroke="#000" stroke-width="2.8" stroke-linecap="round"/>
<line x1="194" y1="284.82" x2="196.4" y2="288.98" stroke="#000" stroke-width="2.8" stroke-linecap="round"/>
<line x1="196.4" y1="284.82" x2="194" y2="288.98" stroke="#000" stroke-width="2.8" stroke-linecap="round"/>
<line x1="215.2" y1="358.2" x2="220" y2="358.2" stroke="#000" stroke-width="2.8" stroke-linecap="round"/>
<line x1="216.4" y1="356.12" x2="218.8" y2="360.28" stroke="#000" stroke-width="2.8" stroke-linecap="round"/>
<line x1="218.8" y1="356.12" x2="216.4" y2="360.28" stroke="#000" stroke-width="2.8" stroke-linecap="round"/>
<line x1="241.6" y1="359.6" x2="246.4" y2="359.6" stroke="#000" stroke-width="2.8" stroke-linecap="round"/>
<line x1="242.8" y1="357.52" x2="245.2" y2="361.68" stroke="#000" stroke-width="2.8" stroke-linecap="round"/>
<line x1="245.2" y1="357.52" x2="242.8" y2="361.68" stroke="#000" stroke-width="2.8" stroke-linecap="round"/>
<line x1="251.5" y1="359.6" x2="256.3" y2="359.6" stroke="#000" stroke-width="2.8" stroke-linecap="round"/>
<line x1="252.7" y1="357.52" x2="255.1" y2="361.68" stroke="#000" stroke-width="2.8" stroke-linecap="round"/>
<line x1="255.1" y1="357.52" x2="252.7" y2="361.68" stroke="#000" stroke-width="2.8" stroke-linecap="round"/>
<line x1="66.3" y1="277.3" x2="79.7" y2="277.3" stroke="#000" stroke-width="2.6"/>
<path d="M73 273L77.2 277.3L73 281.6L68.8 277.3Z" fill="#000"/>
<text x="83" y="282.4" class="l">Regakine-</text>
<path d="M155.62 282.4L153.7 282.4L153.7 275.16Q152.65 276.15 151.22 276.62L151.22 274.87Q151.97 274.63 152.86 273.94Q153.74 273.25 154.07 272.38L155.62 272.38Z" fill="#000" stroke="#000" stroke-width="0.3"/>
<line x1="66.3" y1="293.2" x2="79.7" y2="293.2" stroke="#000" stroke-width="2.6"/>
<circle cx="73" cy="293.2" r="2.6" fill="#fff" stroke="#000" stroke-width="2.0"/>
<text x="83" y="297.4" class="l">MCP-3</text>
<line x1="318.5" y1="447.4" x2="318.5" y2="441.5" stroke="#000" stroke-width="2.2"/>
<line x1="314.5" y1="441.5" x2="322.5" y2="441.5" stroke="#000" stroke-width="2.6"/>
<line x1="379.4" y1="364.8" x2="379.4" y2="385.2" stroke="#000" stroke-width="2.2"/>
<line x1="375.4" y1="385.2" x2="383.4" y2="385.2" stroke="#000" stroke-width="2.6"/>
<line x1="439.9" y1="276.8" x2="439.9" y2="313.5" stroke="#000" stroke-width="2.2"/>
<line x1="435.9" y1="313.5" x2="443.9" y2="313.5" stroke="#000" stroke-width="2.6"/>
<line x1="407.7" y1="451.5" x2="407.7" y2="447.3" stroke="#000" stroke-width="2.2"/>
<line x1="403.7" y1="447.3" x2="411.7" y2="447.3" stroke="#000" stroke-width="2.6"/>
<line x1="440" y1="452" x2="440" y2="447.9" stroke="#000" stroke-width="2.2"/>
<line x1="436" y1="447.9" x2="444" y2="447.9" stroke="#000" stroke-width="2.6"/>
<line x1="468.8" y1="450.1" x2="468.8" y2="446.3" stroke="#000" stroke-width="2.2"/>
<line x1="464.8" y1="446.3" x2="472.8" y2="446.3" stroke="#000" stroke-width="2.6"/>
<line x1="501.1" y1="449.5" x2="501.1" y2="445.7" stroke="#000" stroke-width="2.2"/>
<line x1="497.1" y1="445.7" x2="505.1" y2="445.7" stroke="#000" stroke-width="2.6"/>
<polyline points="318.5,447.4 379.4,364.8 439.9,276.8" fill="none" stroke="#000" stroke-width="2.6" stroke-linejoin="round"/>
<polyline points="407.7,451.5 440,452 468.8,450.1 501.1,449.5" fill="none" stroke="#000" stroke-width="2.6" stroke-linejoin="round"/>
<path d="M407.7 446.5L413 451.5L407.7 456.5L402.4 451.5Z" fill="#000"/>
<path d="M440 447L445.3 452L440 457L434.7 452Z" fill="#000"/>
<path d="M468.8 445.1L474.1 450.1L468.8 455.1L463.5 450.1Z" fill="#000"/>
<path d="M501.1 444.5L506.4 449.5L501.1 454.5L495.8 449.5Z" fill="#000"/>
<circle cx="318.5" cy="447.4" r="3.2" fill="#fff" stroke="#000" stroke-width="2.4"/>
<circle cx="379.4" cy="364.8" r="3.2" fill="#fff" stroke="#000" stroke-width="2.4"/>
<circle cx="439.9" cy="276.8" r="3.2" fill="#fff" stroke="#000" stroke-width="2.4"/>
<line x1="358.4" y1="353.5" x2="363.2" y2="353.5" stroke="#000" stroke-width="2.8" stroke-linecap="round"/>
<line x1="359.6" y1="351.42" x2="362" y2="355.58" stroke="#000" stroke-width="2.8" stroke-linecap="round"/>
<line x1="362" y1="351.42" x2="359.6" y2="355.58" stroke="#000" stroke-width="2.8" stroke-linecap="round"/>
<line x1="368.15" y1="353.5" x2="372.95" y2="353.5" stroke="#000" stroke-width="2.8" stroke-linecap="round"/>
<line x1="369.35" y1="351.42" x2="371.75" y2="355.58" stroke="#000" stroke-width="2.8" stroke-linecap="round"/>
<line x1="371.75" y1="351.42" x2="369.35" y2="355.58" stroke="#000" stroke-width="2.8" stroke-linecap="round"/>
<line x1="377.9" y1="353.5" x2="382.7" y2="353.5" stroke="#000" stroke-width="2.8" stroke-linecap="round"/>
<line x1="379.1" y1="351.42" x2="381.5" y2="355.58" stroke="#000" stroke-width="2.8" stroke-linecap="round"/>
<line x1="381.5" y1="351.42" x2="379.1" y2="355.58" stroke="#000" stroke-width="2.8" stroke-linecap="round"/>
<line x1="426.9" y1="321.2" x2="431.7" y2="321.2" stroke="#000" stroke-width="2.8" stroke-linecap="round"/>
<line x1="428.1" y1="319.12" x2="430.5" y2="323.28" stroke="#000" stroke-width="2.8" stroke-linecap="round"/>
<line x1="430.5" y1="319.12" x2="428.1" y2="323.28" stroke="#000" stroke-width="2.8" stroke-linecap="round"/>
<line x1="437" y1="321.2" x2="441.8" y2="321.2" stroke="#000" stroke-width="2.8" stroke-linecap="round"/>
<line x1="438.2" y1="319.12" x2="440.6" y2="323.28" stroke="#000" stroke-width="2.8" stroke-linecap="round"/>
<line x1="440.6" y1="319.12" x2="438.2" y2="323.28" stroke="#000" stroke-width="2.8" stroke-linecap="round"/>
<line x1="447.1" y1="321.2" x2="451.9" y2="321.2" stroke="#000" stroke-width="2.8" stroke-linecap="round"/>
<line x1="448.3" y1="319.12" x2="450.7" y2="323.28" stroke="#000" stroke-width="2.8" stroke-linecap="round"/>
<line x1="450.7" y1="319.12" x2="448.3" y2="323.28" stroke="#000" stroke-width="2.8" stroke-linecap="round"/>
<line x1="314.3" y1="277.6" x2="328.2" y2="277.6" stroke="#000" stroke-width="2.6"/>
<path d="M321.25 273.3L325.45 277.6L321.25 281.9L317.05 277.6Z" fill="#000"/>
<text x="331.4" y="282.8" class="l">Regakine-</text>
<path d="M404.02 282.8L402.1 282.8L402.1 275.56Q401.05 276.55 399.62 277.02L399.62 275.27Q400.37 275.03 401.26 274.34Q402.14 273.65 402.47 272.78L404.02 272.78Z" fill="#000" stroke="#000" stroke-width="0.3"/>
<line x1="314.3" y1="293.5" x2="328.2" y2="293.5" stroke="#000" stroke-width="2.6"/>
<circle cx="321.25" cy="293.5" r="2.6" fill="#fff" stroke="#000" stroke-width="2.0"/>
<text x="331.4" y="297.8" class="l">MCP-3</text>
<text x="33.5" y="18.1" class="p">A</text>
<text x="282.4" y="18.4" class="p">B</text>
<text x="32.5" y="255" class="p">C</text>
<text x="284" y="257.4" class="p">D</text>
<text x="268.2" y="514.6" text-anchor="middle" class="a">chemokine concentration (ng/mL)</text>
<text transform="translate(16.6,245.5) rotate(-90)" text-anchor="middle" class="a">chemotactic index</text>
</svg>
</body></html>
